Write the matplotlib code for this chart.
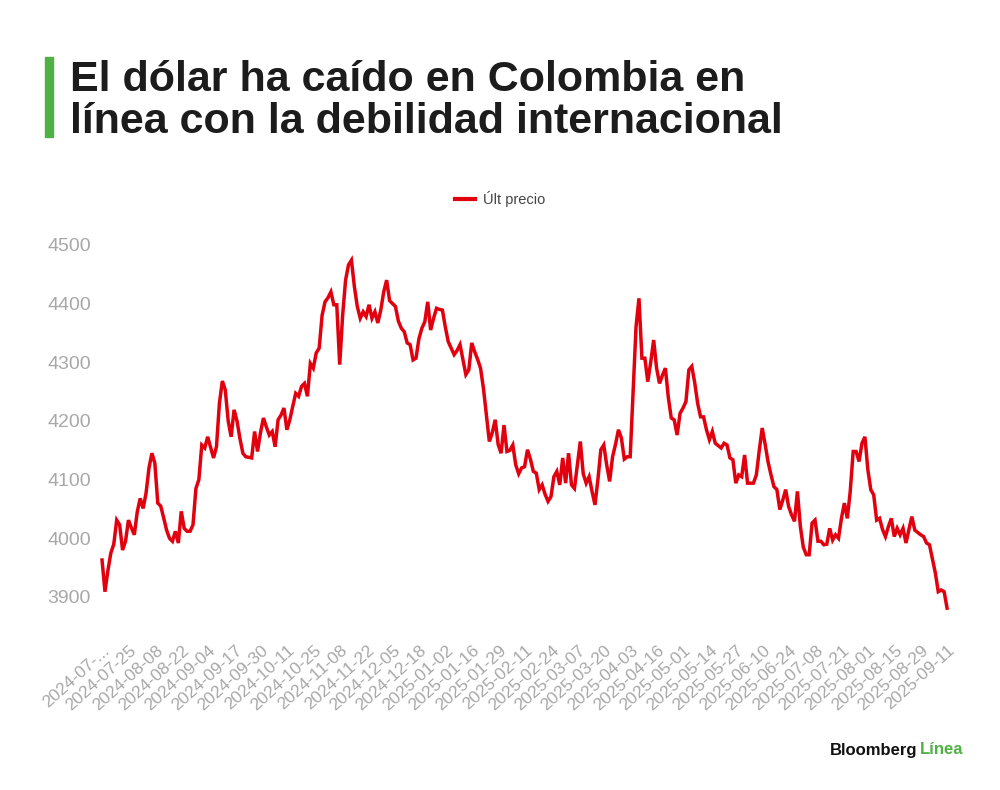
import matplotlib
matplotlib.use('Agg')
import matplotlib.pyplot as plt
import matplotlib.transforms as mtransforms
from matplotlib import font_manager
from matplotlib.patches import Rectangle
from matplotlib.lines import Line2D

plt.rcParams['font.family'] = ['Liberation Sans', 'DejaVu Sans']

# Pick a narrow bold face for the title if it exists
names = {f.name for f in font_manager.fontManager.ttflist}
title_font = 'Liberation Sans Narrow' if 'Liberation Sans Narrow' in names else 'Liberation Sans'

# USD/COP, last price, one value per trading day
precio = [
    3963, 3909, 3945, 3975, 3990, 4031, 4023, 3980, 3995, 4031,
    4018, 4006, 4045, 4068, 4051, 4077, 4120, 4145, 4128, 4060,
    4055, 4035, 4014, 4000, 3995, 4012, 3992, 4046, 4017, 4012,
    4012, 4023, 4085, 4100, 4159, 4154, 4173, 4155, 4137, 4156,
    4230, 4268, 4253, 4200, 4173, 4219, 4200, 4170, 4145, 4139,
    4138, 4137, 4182, 4148, 4180, 4205, 4190, 4176, 4182, 4156,
    4202, 4210, 4222, 4185, 4202, 4225, 4247, 4242, 4259, 4264,
    4242, 4298, 4290, 4316, 4324, 4380, 4403, 4410, 4420, 4398,
    4398, 4296, 4380, 4440, 4466, 4474, 4429, 4395, 4375, 4386,
    4378, 4398, 4375, 4386, 4367, 4389, 4420, 4440, 4405, 4400,
    4395, 4370, 4358, 4352, 4333, 4330, 4304, 4307, 4340, 4358,
    4369, 4403, 4355, 4375, 4392, 4390, 4389, 4360, 4335, 4324,
    4313, 4320, 4330, 4304, 4279, 4287, 4333, 4318, 4305, 4290,
    4255, 4210, 4165, 4180, 4202, 4160, 4145, 4193, 4148, 4150,
    4159, 4125, 4110, 4120, 4122, 4151, 4135, 4114, 4111, 4083,
    4091, 4075, 4063, 4071, 4105, 4114, 4091, 4137, 4094, 4145,
    4091, 4085, 4125, 4165, 4110, 4094, 4105, 4080, 4057, 4100,
    4151, 4159, 4125, 4097, 4139, 4160, 4185, 4171, 4135, 4139,
    4139, 4250, 4361, 4409, 4307, 4307, 4267, 4300, 4338, 4290,
    4264, 4278, 4290, 4240, 4205, 4202, 4176, 4213, 4222, 4233,
    4287, 4293, 4265, 4230, 4207, 4207, 4185, 4168, 4182, 4162,
    4158, 4154, 4162, 4159, 4137, 4134, 4094, 4108, 4105, 4142,
    4094, 4094, 4094, 4108, 4150, 4188, 4160, 4130, 4108, 4088,
    4083, 4049, 4065, 4083, 4054, 4040, 4029, 4080, 4020, 3985,
    3972, 3972, 4026, 4031, 3995, 3995, 3989, 3990, 4017, 3997,
    4006, 4000, 4034, 4060, 4034, 4080, 4148, 4148, 4131, 4162,
    4173, 4117, 4083, 4074, 4031, 4034, 4015, 4003, 4020, 4034,
    4003, 4017, 4006, 4017, 3992, 4015, 4037, 4014, 4010, 4006,
    4003, 3992, 3989, 3965, 3941, 3909, 3912, 3909, 3881,
]

# every 9th trading day gets a label
etiquetas = [
    '2024-07-...', '2024-07-25', '2024-08-08', '2024-08-22', '2024-09-04',
    '2024-09-17', '2024-09-30', '2024-10-11', '2024-10-25', '2024-11-08',
    '2024-11-22', '2024-12-05', '2024-12-18', '2025-01-02', '2025-01-16',
    '2025-01-29', '2025-02-11', '2025-02-24', '2025-03-07', '2025-03-20',
    '2025-04-03', '2025-04-16', '2025-05-01', '2025-05-14', '2025-05-27',
    '2025-06-10', '2025-06-24', '2025-07-08', '2025-07-21', '2025-08-01',
    '2025-08-15', '2025-08-29', '2025-09-11',
]
paso = 9
y_ticks = [3900, 4000, 4100, 4200, 4300, 4400, 4500]

red = '#e2000f'
gray = '#a8a8a8'
green = '#4fb043'

fig = plt.figure(figsize=(10, 7.9), dpi=100)
fig.patch.set_facecolor('white')
ax = fig.add_axes([0.0991, 0.2146, 0.8509, 0.4828])

x = list(range(len(precio)))
ax.plot(x, precio, color=red, linewidth=2.5, solid_joinstyle='miter', label='Últ precio')

ax.set_xlim(-1, len(precio))
ax.set_ylim(3860, 4510)
ax.set_yticks(y_ticks)
ax.set_yticklabels([str(v) for v in y_ticks])
ax.set_xticks(list(range(0, len(precio), paso)))
ax.set_xticklabels(etiquetas, rotation=42, ha='right', va='center',
                   rotation_mode='anchor')
ax.tick_params(axis='x', length=0, pad=20, labelsize=12.5, labelcolor=gray)
ax.tick_params(axis='y', length=0, pad=6, labelsize=14, labelcolor=gray)
for s in ax.spines.values():
    s.set_visible(False)

# nudge the rotated date labels a little to the right, as in the original
shift = mtransforms.ScaledTranslation(4 / 72, 0, fig.dpi_scale_trans)
for lbl in ax.get_xticklabels():
    lbl.set_transform(lbl.get_transform() + shift)

# legend
fig.legend(handles=[Line2D([0], [0], color=red, linewidth=3)], labels=['Últ precio'],
           loc='center', bbox_to_anchor=(0.5, 1 - 199 / 790), frameon=False,
           handlelength=1.4, handletextpad=0.5, fontsize=10.5, labelcolor='#444444')

# title with green bar
fig.patches.append(Rectangle((45 / 1000, 1 - 137 / 790), 8 / 1000, 80 / 790,
                             transform=fig.transFigure, color=green))
fig.text(70 / 1000, 1 - 91 / 790, 'El dólar ha caído en Colombia en',
         fontsize=31, fontweight='bold', family=title_font, color='#1c1c1c', va='baseline')
fig.text(70 / 1000, 1 - 133 / 790, 'línea con la debilidad internacional',
         fontsize=31, fontweight='bold', family=title_font, color='#1c1c1c', va='baseline')

# footer
fig.text(830 / 1000, 1 - 750 / 790, 'Bloomberg', fontsize=12, fontweight='bold',
         color='#111111', va='center')
fig.text(920 / 1000, 1 - 750 / 790, 'Línea', fontsize=12, fontweight='bold',
         color=green, va='center')

fig.savefig('out.png', dpi=100)
plt.close(fig)
